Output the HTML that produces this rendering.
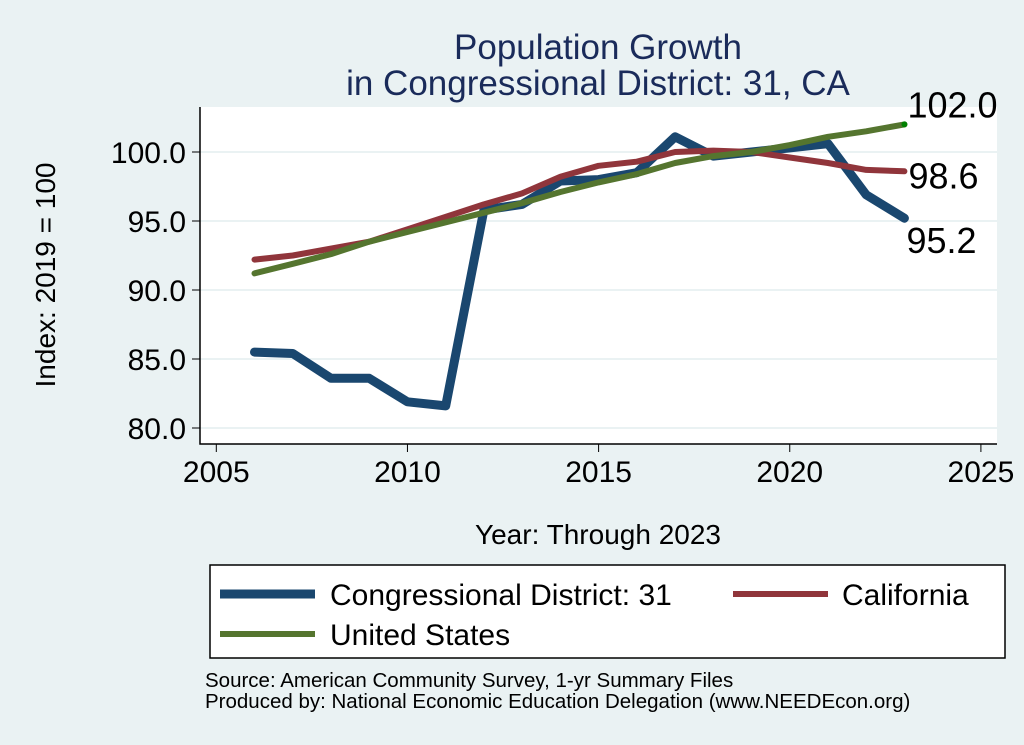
<!DOCTYPE html>
<html><head><meta charset="utf-8"><style>
body{margin:0;background:#eaf2f3;}
svg{display:block;font-family:"Liberation Sans",Arial,sans-serif;}
</style></head><body>
<svg id="chart" width="1024" height="745" viewBox="0 0 1024 745">
<rect x="0" y="0" width="1024" height="745" fill="#eaf2f3"/>
<text x="598" y="59" text-anchor="middle" font-size="35" fill="#1a2b5a">Population Growth</text>
<text x="598" y="95" text-anchor="middle" font-size="35" fill="#1a2b5a">in Congressional District: 31, CA</text>
<rect x="200" y="107" width="797" height="337" fill="#ffffff"/>
<g id="grid"></g>
<g id="axes"></g>
<g id="series"></g>
<text transform="translate(55,275) rotate(-90)" text-anchor="middle" font-size="28" fill="#000">Index: 2019 = 100</text>
<text x="598" y="544" text-anchor="middle" font-size="28" fill="#000">Year: Through 2023</text>
<g>
<rect x="210" y="565" width="795" height="93" fill="#fff" stroke="#000" stroke-width="1.5"/>
<line x1="220" y1="594" x2="315" y2="594" stroke="#1a476f" stroke-width="9"/>
<text x="330" y="605" font-size="30">Congressional District: 31</text>
<line x1="733" y1="594" x2="828" y2="594" stroke="#90353b" stroke-width="6"/>
<text x="842" y="605" font-size="30">California</text>
<line x1="220" y1="634" x2="315" y2="634" stroke="#55752f" stroke-width="6"/>
<text x="330" y="645" font-size="30">United States</text>
</g>
<text x="205" y="687" font-size="20.5">Source: American Community Survey, 1-yr Summary Files</text>
<text x="205" y="708" font-size="20.5">Produced by: National Economic Education Delegation (www.NEEDEcon.org)</text>
</svg>
<script>
const years=[2006,2007,2008,2009,2010,2011,2012,2013,2014,2015,2016,2017,2018,2019,2020,2021,2022,2023];
const district=[85.5,85.4,83.6,83.6,81.9,81.6,95.8,96.2,97.9,98.0,98.5,101.1,99.7,100.0,100.3,100.6,96.9,95.2];
const california=[92.2,92.5,93.0,93.5,94.4,95.3,96.2,97.0,98.2,99.0,99.3,100.0,100.1,100.0,99.6,99.2,98.7,98.6];
const unitedStates=[91.2,91.9,92.6,93.5,94.2,94.9,95.6,96.3,97.1,97.8,98.4,99.2,99.7,100.0,100.5,101.1,101.5,102.0];
const xTicks=[2005,2010,2015,2020,2025];
const yTicks=[80,85,90,95,100];
const yTickLabels=["80.0","85.0","90.0","95.0","100.0"];
const endLabels=["95.2","98.6","102.0"];

const NS="http://www.w3.org/2000/svg";
function xs(v){return 216.3+(v-2005)*38.23;}
function ys(v){return 428-(v-80)*13.8;}
function mk(tag,attrs,parent){const e=document.createElementNS(NS,tag);for(const k in attrs)e.setAttribute(k,attrs[k]);parent.appendChild(e);return e;}
const grid=document.getElementById('grid'),axes=document.getElementById('axes'),series=document.getElementById('series');
yTicks.forEach((t,i)=>{
  const g=mk('line',{x1:200,x2:997,y1:ys(t),y2:ys(t),stroke:'#eaf2f3','stroke-width':2},grid);
  
  
  const tk=mk('line',{x1:192,x2:200,y1:ys(t),y2:ys(t),stroke:'#000','stroke-width':1},axes);
  
  
  const lb=mk('text',{x:186,y:ys(t)+11,'text-anchor':'end','font-size':30},axes);
  lb.textContent=yTickLabels[i];
  
  
});
xTicks.forEach(t=>{
  const tk=mk('line',{x1:xs(t),x2:xs(t),y1:444,y2:452,stroke:'#000','stroke-width':1},axes);
  
  
  const lb=mk('text',{x:xs(t),y:482,'text-anchor':'middle','font-size':30},axes);
  lb.textContent=t;
  
  
});
const ax=mk('path',{d:'M200,107 V444 H997',fill:'none',stroke:'#000','stroke-width':1.5},axes);


function line(vals,color,w,name){
  const d=vals.map((v,i)=>(i?'L':'M')+xs(years[i]).toFixed(1)+','+ys(v).toFixed(1)).join(' ');
  const p=mk('path',{d:d,fill:'none',stroke:color,'stroke-width':w,'stroke-linejoin':'round','stroke-linecap':'round'},series);
  
  
}
line(district,'#1a476f',9,'line-district');
line(california,'#90353b',6,'line-california');
line(unitedStates,'#55752f',6,'line-us');
const n=years.length-1;
const dot=mk('circle',{cx:xs(years[n]),cy:ys(unitedStates[n]),r:3,fill:'#008000'},series);


const endVals=[district[n],california[n],unitedStates[n]];
const offs=[[2,35],[4,17],[3,-7]];
endVals.forEach((v,i)=>{
  const t=mk('text',{x:xs(years[n])+offs[i][0],y:ys(v)+offs[i][1],'font-size':36},series);
  t.textContent=endLabels[i];
  
  
});
</script>
</body></html>
